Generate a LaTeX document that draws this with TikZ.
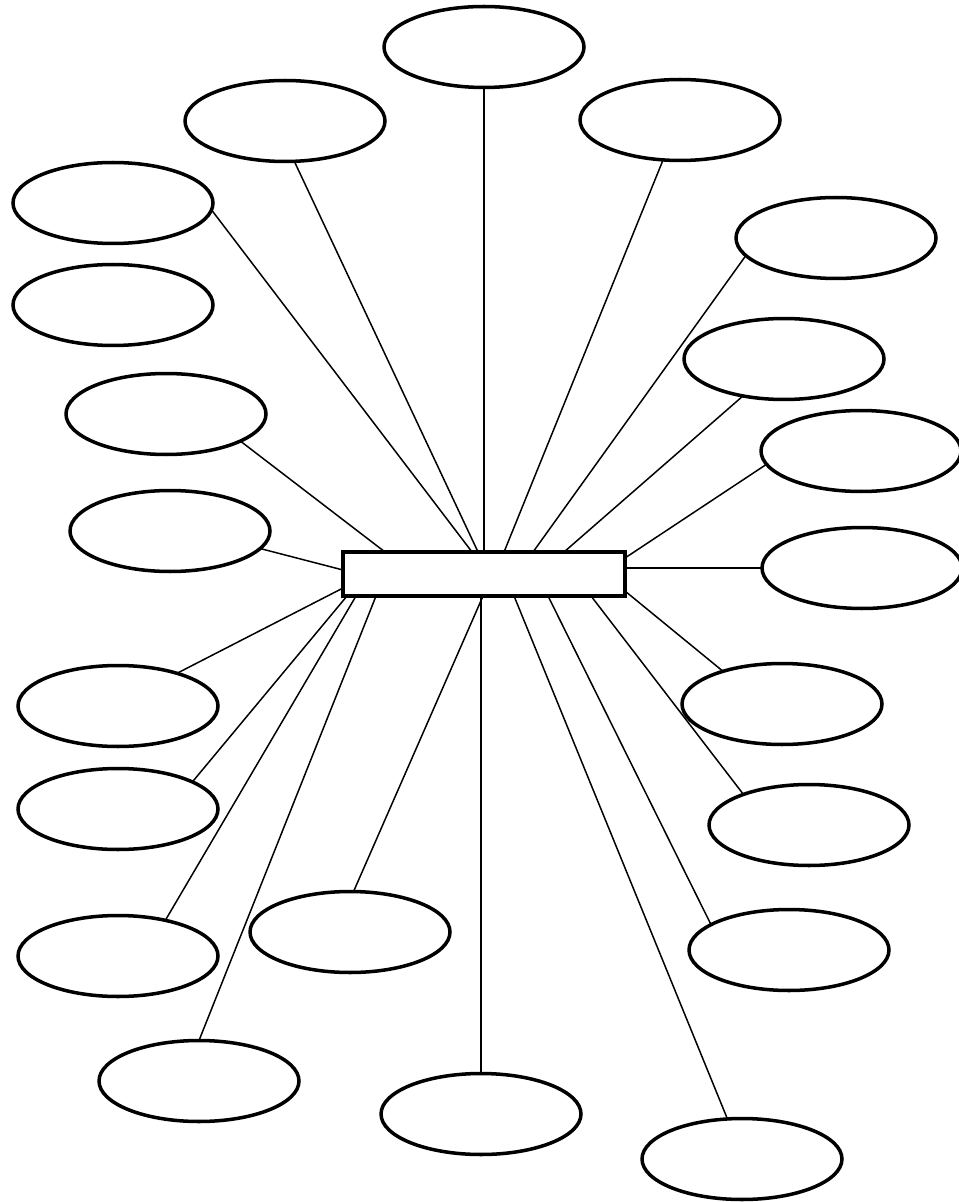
\documentclass[tikz,border=0pt]{standalone}
\usepackage{tikz}
\usetikzlibrary{shapes.geometric,calc}
\tikzset{
  bubble/.style={draw,ellipse,line width=2pt,minimum width=4cm,minimum height=1.62cm,inner sep=0pt,outer sep=0pt},
  hubbox/.style={draw,rectangle,line width=2.4pt,minimum width=5.64cm,minimum height=.88cm,inner sep=0pt,outer sep=0pt},
  spoke/.style={line width=.85pt}
}
\begin{document}
\begin{tikzpicture}[x=.02cm,y=-.02cm]
      \useasboundingbox (0,0) rectangle (958,1202);
      \node[hubbox] (hub) at (484,574) {};
      \node[bubble] (b1) at (484,47) {};
      \node[bubble] (b2) at (285,121) {};
      \node[bubble] (b3) at (680,120) {};
      \node[bubble] (b4) at (113,203) {};
      \node[bubble] (b5) at (836,238) {};
      \node[bubble] (b6) at (113,305) {};
      \node[bubble] (b7) at (784,359) {};
      \node[bubble] (b8) at (166,414) {};
      \node[bubble] (b9) at (861,451) {};
      \node[bubble] (b10) at (170,531) {};
      \node[bubble] (b11) at (862,568) {};
      \node[bubble] (b12) at (118,706) {};
      \node[bubble] (b13) at (782,704) {};
      \node[bubble] (b14) at (118,809) {};
      \node[bubble] (b15) at (809,825) {};
      \node[bubble] (b16) at (118,956) {};
      \node[bubble] (b17) at (350,932) {};
      \node[bubble] (b18) at (789,950) {};
      \node[bubble] (b19) at (199,1081) {};
      \node[bubble] (b20) at (481,1114) {};
      \node[bubble] (b21) at (742,1159) {};
      \draw[spoke] (hub.north) -- (b1.south);
      \draw[spoke] ($(hub.north west)+(135,0)$) -- (b2.-77);
      \draw[spoke] ($(hub.north west)+(161,0)$) -- (b3.-113);
      \draw[spoke] ($(hub.north west)+(129,0)$) -- (b4.-4);
      \draw[spoke] ($(hub.north west)+(190,0)$) -- (b5.-169);
      \draw[spoke] ($(hub.north west)+(221,0)$) -- (b7.-138);
      \draw[spoke] ($(hub.north west)+(42,0)$) -- (b8.-20);
      \draw[spoke] ($(hub.north east)+(0,6)$) -- (b9.-172);
      \draw[spoke] ($(hub.north west)+(0,18)$) -- (b10.-11);
      \draw[spoke] (hub.east |- b11.west) -- (b11.west);
      \draw[spoke] ($(hub.north west)+(0,36)$) -- (b12.29);
      \draw[spoke] ($(hub.north east)+(0,39)$) -- (b13.151);
      \draw[spoke] ($(hub.south west)+(4,0)$) -- (b14.20);
      \draw[spoke] ($(hub.south west)+(248,0)$) -- (b15.155);
      \draw[spoke] ($(hub.south west)+(13,0)$) -- (b16.37);
      \draw[spoke] ($(hub.south west)+(140,0)$) -- (b17.85);
      \draw[spoke] ($(hub.south west)+(205,0)$) -- (b18.162);
      \draw[spoke] ($(hub.south west)+(33,0)$) -- (b19.north);
      \draw[spoke] (hub.south -| b20.north) -- (b20.north);
      \draw[spoke] ($(hub.south west)+(171,0)$) -- (b21.110);
    \end{tikzpicture}
\end{document}
